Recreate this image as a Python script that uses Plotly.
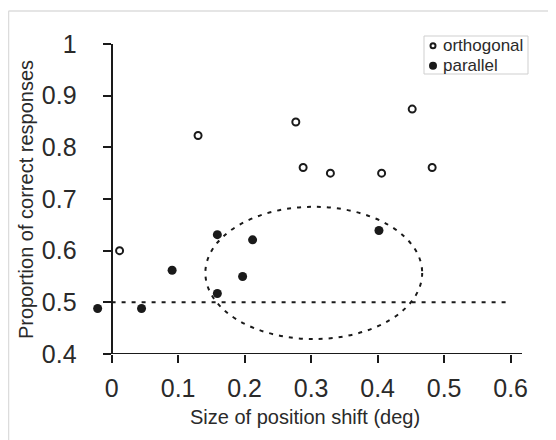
import plotly.graph_objects as go

orth_x = [0.012, 0.130, 0.277, 0.288, 0.329, 0.406, 0.452, 0.482]
orth_y = [0.600, 0.823, 0.849, 0.761, 0.750, 0.750, 0.874, 0.761]
par_x = [-0.021, 0.045, 0.091, 0.159, 0.159, 0.197, 0.212, 0.402]
par_y = [0.488, 0.488, 0.562, 0.631, 0.517, 0.550, 0.621, 0.639]

x_ticks = [0, 0.1, 0.2, 0.3, 0.4, 0.5, 0.6]
x_labels = ["0", "0.1", "0.2", "0.3", "0.4", "0.5", "0.6"]
y_ticks = [0.4, 0.5, 0.6, 0.7, 0.8, 0.9, 1.0]
y_labels = ["0.4", "0.5", "0.6", "0.7", "0.8", "0.9", "1"]

chance = 0.5
ellipse_x = [0.141, 0.467]
ellipse_y = [0.429, 0.685]

W, H = 556, 440
OFF = 8  # page body margin
# plot area in page pixel coordinates
PL, PR, PT, PB = 85, 522, 44, 354
L, R, T, B = PL - OFF, PR - OFF, PT - OFF, PB - OFF
xr = [-0.04, 0.6171]
yr = [0.4, 1.0]
x_axis_start = -0.0128


def px(xp):
    return (xp - PL) / (PR - PL)


def py(yp):
    return (PB - yp) / (PB - PT)


INK = "#1a1a1a"
TXT = "#2a2a2a"

fig = go.Figure()
fig.add_trace(go.Scatter(
    x=orth_x, y=orth_y, mode="markers", name="orthogonal",
    marker=dict(symbol="circle-open", size=7, color=INK, line=dict(width=2, color=INK)),
    cliponaxis=False, showlegend=False,
))
fig.add_trace(go.Scatter(
    x=par_x, y=par_y, mode="markers", name="parallel",
    marker=dict(symbol="circle", size=9, color=INK),
    cliponaxis=False, showlegend=False,
))

# x axis line (extends slightly left of the y axis)
fig.add_shape(type="line", xref="x", yref="y", x0=x_axis_start, x1=xr[1], y0=yr[0], y1=yr[0],
              line=dict(color=INK, width=2))

fig.add_shape(type="line", xref="x", yref="y", x0=0, x1=0.6, y0=chance, y1=chance,
              line=dict(color=INK, width=2, dash="4px,6px"), layer="below")
fig.add_shape(type="circle", xref="x", yref="y", x0=ellipse_x[0], x1=ellipse_x[1],
              y0=ellipse_y[0], y1=ellipse_y[1],
              line=dict(color=INK, width=2, dash="4px,6px"))

# light frame
fig.add_shape(type="line", xref="paper", yref="paper", x0=px(8.5), x1=px(W + 10),
              y0=py(11), y1=py(11), line=dict(color="#dcdcdc", width=1.5))
fig.add_shape(type="line", xref="paper", yref="paper", x0=px(8.5), x1=px(8.5),
              y0=py(11), y1=py(H + 10), line=dict(color="#dcdcdc", width=1.5))

# manual legend
fig.add_shape(type="rect", xref="paper", yref="paper", x0=px(424), x1=px(528),
              y0=py(74), y1=py(36), line=dict(color="#cfcfcf", width=1), fillcolor="white")
fig.add_shape(type="circle", xref="paper", yref="paper", x0=px(430.5), x1=px(435.5),
              y0=py(48.2), y1=py(43.2), line=dict(color=INK, width=2))
fig.add_shape(type="circle", xref="paper", yref="paper", x0=px(429), x1=px(437),
              y0=py(69.7), y1=py(61.7), line=dict(color=INK, width=0), fillcolor=INK)
for name, ypx in [("orthogonal", 45.5), ("parallel", 65.5)]:
    fig.add_annotation(xref="paper", yref="paper", x=px(441), y=py(ypx), text=name,
                       showarrow=False, xanchor="left", yanchor="middle",
                       font=dict(size=17, color=TXT))

# axis titles
fig.add_annotation(xref="paper", yref="paper", x=px(305), y=py(417),
                   text="Size of position shift (deg)", showarrow=False,
                   xanchor="center", yanchor="middle", font=dict(size=20, color=TXT))
fig.add_annotation(xref="paper", yref="paper", x=px(26), y=py(200),
                   text="Proportion of correct responses", showarrow=False, textangle=-90,
                   xanchor="center", yanchor="middle", font=dict(size=20, color=TXT))

pos = (0 - xr[0]) / (xr[1] - xr[0])

fig.update_layout(
    width=W, height=H,
    margin=dict(l=L, r=W - R, t=T, b=H - B),
    paper_bgcolor="white", plot_bgcolor="white",
    font=dict(family="Liberation Sans, Arial, sans-serif", color=TXT),
    showlegend=False,
    xaxis=dict(range=xr, tickvals=x_ticks, ticktext=x_labels, automargin=False,
               showline=False, ticks="outside", ticklen=8, tickwidth=2, tickcolor=INK,
               showgrid=False, zeroline=False,
               tickfont=dict(size=25, color=TXT), ticklabelstandoff=4),
    yaxis=dict(range=yr, tickvals=y_ticks, ticktext=y_labels, automargin=False,
               anchor="free", position=pos,
               showline=True, linecolor=INK, linewidth=2,
               ticks="outside", ticklen=8, tickwidth=2, tickcolor=INK,
               showgrid=False, zeroline=False,
               tickfont=dict(size=25, color=TXT), ticklabelstandoff=21),
)

fig.write_html("out.html")
